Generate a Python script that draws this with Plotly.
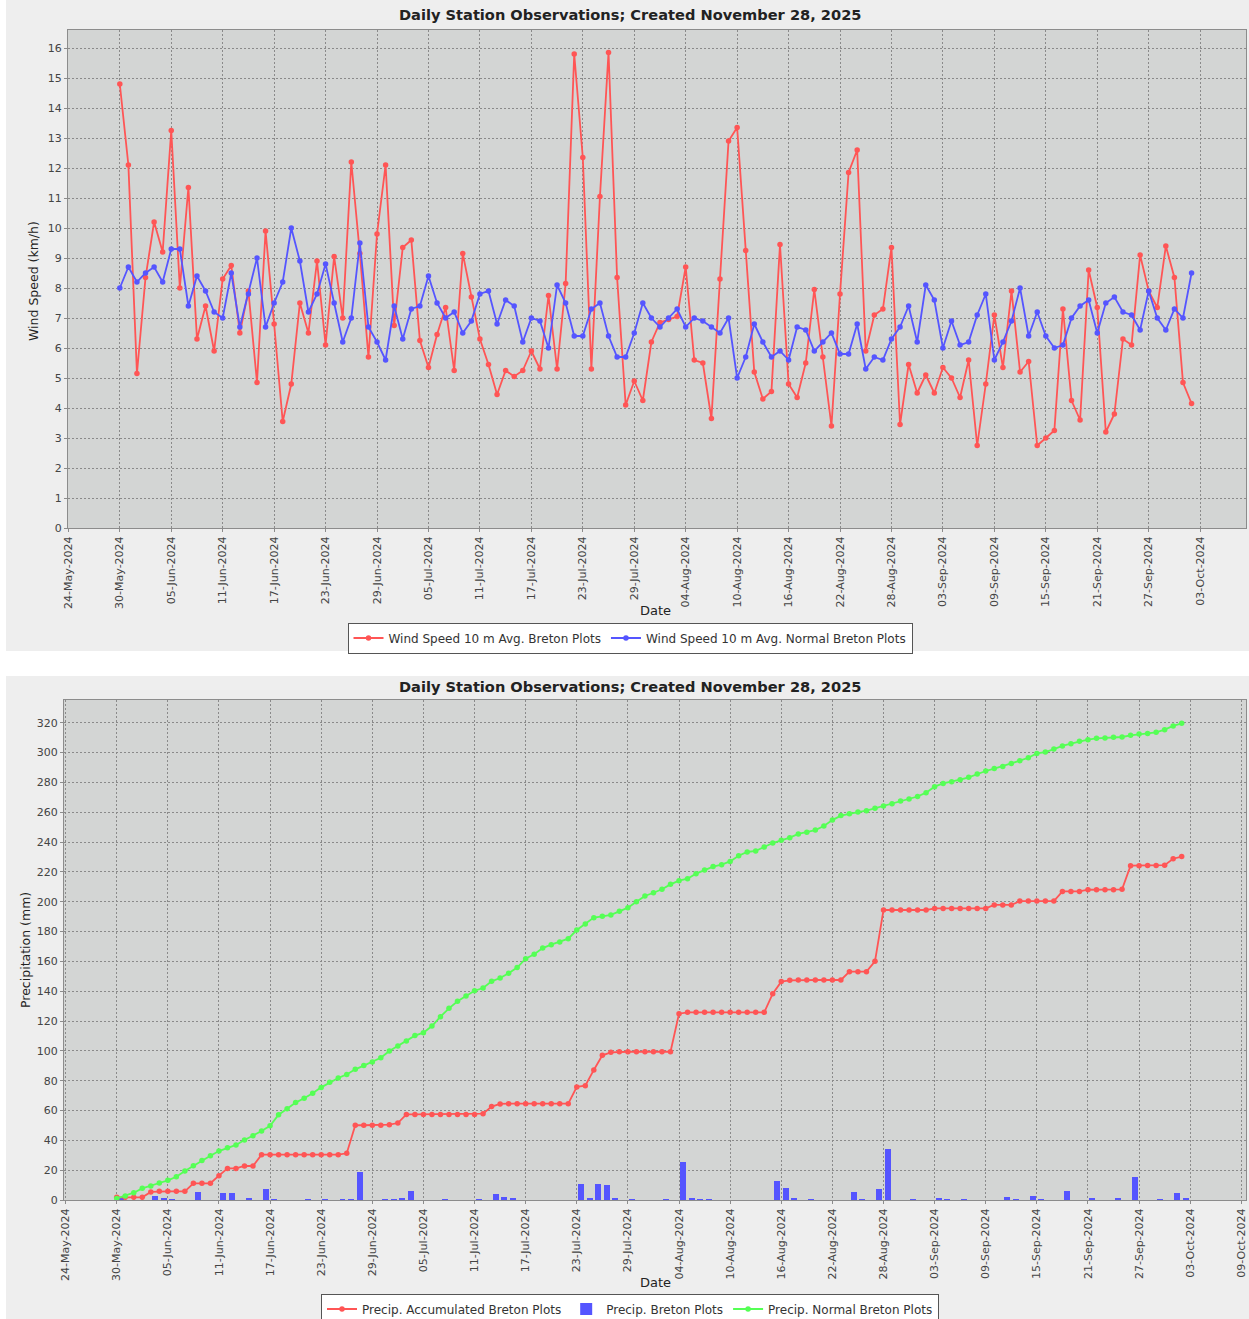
import pandas as pd
import plotly.graph_objects as go

W, H = 1249, 1319

# ---------------- data ----------------
start_date = "2024-05-30"
n_days = 126

wind_breton = [14.8, 12.1, 5.15, 8.35, 10.2, 9.2, 13.25, 8.0, 11.35, 6.3,
               7.4, 5.9, 8.3, 8.75, 6.5, 7.9, 4.85, 9.9, 6.8, 3.55,
               4.8, 7.5, 6.5, 8.9, 6.1, 9.05, 7.0, 12.2, 9.15, 5.7,
               9.8, 12.1, 6.75, 9.35, 9.6, 6.25, 5.35, 6.45, 7.35, 5.25,
               9.15, 7.7, 6.3, 5.45, 4.45, 5.25, 5.05, 5.25, 5.9, 5.3,
               7.75, 5.3, 8.15, 15.8, 12.35, 5.3, 11.05, 15.85, 8.35, 4.1,
               4.9, 4.25, 6.2, 6.85, 6.95, 7.05, 8.7, 5.6, 5.5, 3.65,
               8.3, 12.9, 13.35, 9.25, 5.2, 4.3, 4.55, 9.45, 4.8, 4.35,
               5.5, 7.95, 5.7, 3.4, 7.8, 11.85, 12.6, 5.9, 7.1, 7.3,
               9.35, 3.45, 5.45, 4.5, 5.1, 4.5, 5.35, 5.0, 4.35, 5.6,
               2.75, 4.8, 7.1, 5.35, 7.9, 5.2, 5.55, 2.75, 3.0, 3.25,
               7.3, 4.25, 3.6, 8.6, 7.35, 3.2, 3.8, 6.3, 6.1, 9.1,
               7.9, 7.35, 9.4, 8.35, 4.85, 4.15]

wind_normal = [8.0, 8.7, 8.2, 8.5, 8.7, 8.2, 9.3, 9.3, 7.4, 8.4,
               7.9, 7.2, 7.0, 8.5, 6.7, 7.8, 9.0, 6.7, 7.5, 8.2,
               10.0, 8.9, 7.2, 7.8, 8.8, 7.5, 6.2, 7.0, 9.5, 6.7,
               6.2, 5.6, 7.4, 6.3, 7.3, 7.4, 8.4, 7.5, 7.0, 7.2,
               6.5, 6.9, 7.8, 7.9, 6.8, 7.6, 7.4, 6.2, 7.0, 6.9,
               6.0, 8.1, 7.5, 6.4, 6.4, 7.3, 7.5, 6.4, 5.7, 5.7,
               6.5, 7.5, 7.0, 6.7, 7.0, 7.3, 6.7, 7.0, 6.9, 6.7,
               6.5, 7.0, 5.0, 5.7, 6.8, 6.2, 5.7, 5.9, 5.6, 6.7,
               6.6, 5.9, 6.2, 6.5, 5.8, 5.8, 6.8, 5.3, 5.7, 5.6,
               6.3, 6.7, 7.4, 6.2, 8.1, 7.6, 6.0, 6.9, 6.1, 6.2,
               7.1, 7.8, 5.6, 6.2, 6.9, 8.0, 6.4, 7.2, 6.4, 6.0,
               6.1, 7.0, 7.4, 7.6, 6.5, 7.5, 7.7, 7.2, 7.1, 6.6,
               7.9, 7.0, 6.6, 7.3, 7.0, 8.5]

precip_accum = [1.8, 1.8, 1.8, 1.8, 5.4, 5.8, 5.8, 5.8, 5.8, 11.2,
                11.2, 11.2, 16.3, 21.2, 21.2, 22.8, 22.8, 30.4, 30.4, 30.4,
                30.4, 30.4, 30.4, 30.4, 30.4, 30.4, 30.4, 31.3, 50.1, 50.1,
                50.1, 50.1, 50.5, 51.6, 57.4, 57.4, 57.4, 57.4, 57.4, 57.4,
                57.4, 57.4, 57.4, 57.9, 62.6, 64.4, 64.6, 64.6, 64.6, 64.6,
                64.6, 64.6, 64.6, 64.6, 75.8, 76.6, 87.2, 97.0, 99.0, 99.4,
                99.4, 99.4, 99.4, 99.4, 99.4, 99.4, 124.9, 125.8, 125.8, 125.8,
                125.8, 125.8, 125.8, 125.8, 125.8, 125.8, 125.8, 138.3, 146.4, 147.3,
                147.5, 147.5, 147.5, 147.5, 147.5, 147.5, 153.1, 153.1, 153.1, 160.0,
                194.4, 194.4, 194.4, 194.4, 194.4, 194.4, 195.5, 195.5, 195.5, 195.5,
                195.5, 195.5, 195.5, 197.8, 197.8, 197.8, 200.4, 200.4, 200.4, 200.4,
                200.4, 206.9, 206.9, 206.9, 208.0, 208.0, 208.0, 208.0, 208.3, 224.1,
                224.1, 224.3, 224.3, 224.5, 228.8, 230.2]

precip_daily = [1.5, 0, 0, 0, 2.9, 0.9, 0.3, 0, 0, 5.2,
                0, 0, 4.9, 4.9, 0, 1.1, 0, 7.2, 0.2, 0,
                0, 0, 0.2, 0, 0.2, 0, 0.4, 0.5, 18.7, 0,
                0, 0.2, 0.4, 1.1, 5.8, 0, 0, 0, 0.2, 0,
                0, 0, 0.4, 0, 4.3, 1.8, 0.7, 0, 0, 0,
                0, 0, 0, 0, 11.0, 1.1, 10.6, 10.1, 1.6, 0,
                0.4, 0, 0, 0, 0.3, 0, 25.2, 1.0, 0.2, 0.2,
                0, 0, 0, 0, 0, 0, 0, 12.7, 8.2, 1.2,
                0, 0.3, 0, 0, 0, 0, 5.6, 0.6, 0, 7.1,
                34.3, 0, 0, 0.2, 0, 0, 0.8, 0.2, 0, 0.2,
                0, 0, 0, 0, 1.8, 0.3, 0, 2.7, 0.2, 0,
                0, 6.3, 0, 0, 1.0, 0, 0, 0.7, 0, 15.4,
                0, 0, 0.4, 0, 4.8, 0.9]

precip_normal = [1.0, 2.7, 4.9, 7.8, 9.4, 11.4, 13.2, 15.6, 19.4, 23.0,
                 26.4, 29.7, 32.8, 35.1, 36.9, 40.2, 43.1, 46.3, 49.8, 57.2,
                 61.2, 65.3, 68.2, 71.5, 75.5, 78.9, 81.8, 84.2, 87.6, 90.1,
                 92.5, 95.4, 99.9, 103.2, 106.6, 110.2, 112.2, 116.6, 122.9, 128.5,
                 133.2, 136.8, 140.3, 142.1, 146.6, 148.8, 152.0, 155.8, 161.8, 164.7,
                 168.9, 171.2, 173.0, 175.2, 181.0, 185.0, 189.3, 190.2, 191.1, 193.5,
                 196.0, 200.0, 203.8, 206.0, 208.3, 211.6, 214.1, 215.4, 218.8, 221.2,
                 223.5, 224.8, 227.0, 230.8, 233.3, 234.0, 236.6, 239.3, 241.1, 242.9,
                 245.4, 246.5, 248.0, 250.7, 254.7, 257.7, 259.0, 260.1, 261.0, 262.6,
                 264.1, 265.7, 267.5, 268.8, 270.5, 273.1, 277.1, 279.3, 280.4, 281.8,
                 283.4, 285.6, 287.6, 289.2, 290.7, 292.7, 294.5, 296.5, 299.4, 300.3,
                 302.3, 304.4, 305.9, 307.5, 308.6, 309.5, 309.7, 310.2, 310.4, 311.5,
                 312.4, 312.8, 313.5, 315.3, 317.8, 319.6]

title_text = "Daily Station Observations; Created November 28, 2025"
top_names = ["Wind Speed 10 m Avg. Breton Plots", "Wind Speed 10 m Avg. Normal Breton Plots"]
bot_names = ["Precip. Accumulated Breton Plots", "Precip. Breton Plots", "Precip. Normal Breton Plots"]

# ---------------- styling ----------------
RED, BLUE, GREEN = "#FF5555", "#5555FF", "#55FF55"
PLOT_BG = "#d3d5d4"
PANEL_BG = "#eeeeee"
GRID = "#8a8a8a"
FONT = "DejaVu Sans"
DAY_MS = 86400000

dates = pd.date_range(start_date, periods=n_days, freq="D")
bar_x = dates + pd.Timedelta(hours=12)


def px(x):
    return x / W


def py(y):
    return 1 - y / H


fig = go.Figure()

line_w = 1.8
mk = 5.5

fig.add_trace(go.Scatter(x=dates, y=wind_breton, mode="lines+markers", name=top_names[0],
                         line=dict(color=RED, width=line_w), marker=dict(size=mk, color=RED),
                         xaxis="x", yaxis="y", legend="legend", legendrank=1))
fig.add_trace(go.Scatter(x=dates, y=wind_normal, mode="lines+markers", name=top_names[1],
                         line=dict(color=BLUE, width=line_w), marker=dict(size=mk, color=BLUE),
                         xaxis="x", yaxis="y", legend="legend", legendrank=2))

fig.add_trace(go.Bar(x=bar_x, y=precip_daily, name=bot_names[1], width=0.7 * DAY_MS,
                     marker=dict(color=BLUE, line=dict(width=0)),
                     xaxis="x2", yaxis="y2", legend="legend2", legendrank=2))
fig.add_trace(go.Scatter(x=dates, y=precip_accum, mode="lines+markers", name=bot_names[0],
                         line=dict(color=RED, width=line_w), marker=dict(size=mk, color=RED),
                         xaxis="x2", yaxis="y2", legend="legend2", legendrank=1))
fig.add_trace(go.Scatter(x=dates, y=precip_normal, mode="lines+markers", name=bot_names[2],
                         line=dict(color=GREEN, width=line_w), marker=dict(size=mk, color=GREEN),
                         xaxis="x2", yaxis="y2", legend="legend2", legendrank=3))

common_x = dict(type="date", tick0="2024-05-24", dtick=6 * DAY_MS, tickformat="%d-%b-%Y",
                tickangle=-90, showgrid=True, gridcolor=GRID, griddash="2px,2px", gridwidth=1,
                showline=True, linecolor="#8c8c8c", linewidth=1, mirror=True,
                ticks="outside", ticklen=3, tickcolor="#8c8c8c", automargin=False,
                tickfont=dict(family=FONT, size=11, color="#444444"), zeroline=False)
common_y = dict(showgrid=True, gridcolor=GRID, griddash="2px,2px", gridwidth=1,
                showline=True, linecolor="#8c8c8c", linewidth=1, mirror=True,
                ticks="outside", ticklen=3, tickcolor="#8c8c8c", automargin=False,
                tickfont=dict(family=FONT, size=11, color="#444444"), zeroline=False)

fig.update_layout(
    width=W, height=H,
    margin=dict(l=0, r=0, t=0, b=0, autoexpand=False),
    paper_bgcolor="white",
    plot_bgcolor=PLOT_BG,
    showlegend=True,
    bargap=0,
    xaxis=dict(common_x, domain=[px(68), px(1246)], anchor="y",
               range=["2024-05-23 23:00", "2024-10-08 08:24"]),
    yaxis=dict(common_y, domain=[py(528), py(30)], anchor="x", range=[0, 16.6], dtick=1),
    xaxis2=dict(common_x, domain=[px(64), px(1246)], anchor="y2",
                range=["2024-05-23 19:30", "2024-10-09 13:10"]),
    yaxis2=dict(common_y, domain=[py(1200), py(700)], anchor="x2", range=[0, 335.2], dtick=20),
    legend=dict(orientation="h", x=px(630), y=py(638), xanchor="center", yanchor="middle",
                bgcolor="white", bordercolor="#555555", borderwidth=1,
                font=dict(family=FONT, size=12, color="#333333"), itemwidth=30,
                tracegroupgap=0),
    legend2=dict(orientation="h", x=px(630), y=py(1309), xanchor="center", yanchor="middle",
                 bgcolor="white", bordercolor="#555555", borderwidth=1,
                 font=dict(family=FONT, size=12, color="#333333"), itemwidth=30,
                 tracegroupgap=0),
    shapes=[
        dict(type="rect", xref="paper", yref="paper", x0=px(6), x1=1, y0=py(651), y1=1,
             fillcolor=PANEL_BG, line=dict(width=0), layer="below"),
        dict(type="rect", xref="paper", yref="paper", x0=px(6), x1=1, y0=0, y1=py(676),
             fillcolor=PANEL_BG, line=dict(width=0), layer="below"),
        dict(type="rect", xref="x domain", yref="y domain", x0=0, x1=1, y0=0, y1=1,
             fillcolor=PLOT_BG, line=dict(width=0), layer="below"),
        dict(type="rect", xref="x2 domain", yref="y2 domain", x0=0, x1=1, y0=0, y1=1,
             fillcolor=PLOT_BG, line=dict(width=0), layer="below"),
    ],
    annotations=[
        dict(text="<b>" + title_text + "</b>", x=px(630), y=py(14), xref="paper", yref="paper",
             showarrow=False, xanchor="center", yanchor="middle",
             font=dict(family=FONT, size=14.6, color="#222222")),
        dict(text="<b>" + title_text + "</b>", x=px(630), y=py(686), xref="paper", yref="paper",
             showarrow=False, xanchor="center", yanchor="middle",
             font=dict(family=FONT, size=14.6, color="#222222")),
        dict(text="Date", x=px(655), y=py(610), xref="paper", yref="paper", showarrow=False,
             xanchor="center", yanchor="middle", font=dict(family=FONT, size=13, color="#222222")),
        dict(text="Date", x=px(655), y=py(1282), xref="paper", yref="paper", showarrow=False,
             xanchor="center", yanchor="middle", font=dict(family=FONT, size=13, color="#222222")),
        dict(text="Wind Speed (km/h)", x=px(34), y=py(281), xref="paper", yref="paper",
             showarrow=False, textangle=-90, xanchor="center", yanchor="middle",
             font=dict(family=FONT, size=12.5, color="#222222")),
        dict(text="Precipitation (mm)", x=px(25), y=py(950), xref="paper", yref="paper",
             showarrow=False, textangle=-90, xanchor="center", yanchor="middle",
             font=dict(family=FONT, size=12.5, color="#222222")),
    ],
)

fig.write_html("out.html", config={"displayModeBar": False},
               post_script="document.body.style.margin='0';document.body.style.padding='0';"
                           "document.documentElement.style.overflow='hidden';")
